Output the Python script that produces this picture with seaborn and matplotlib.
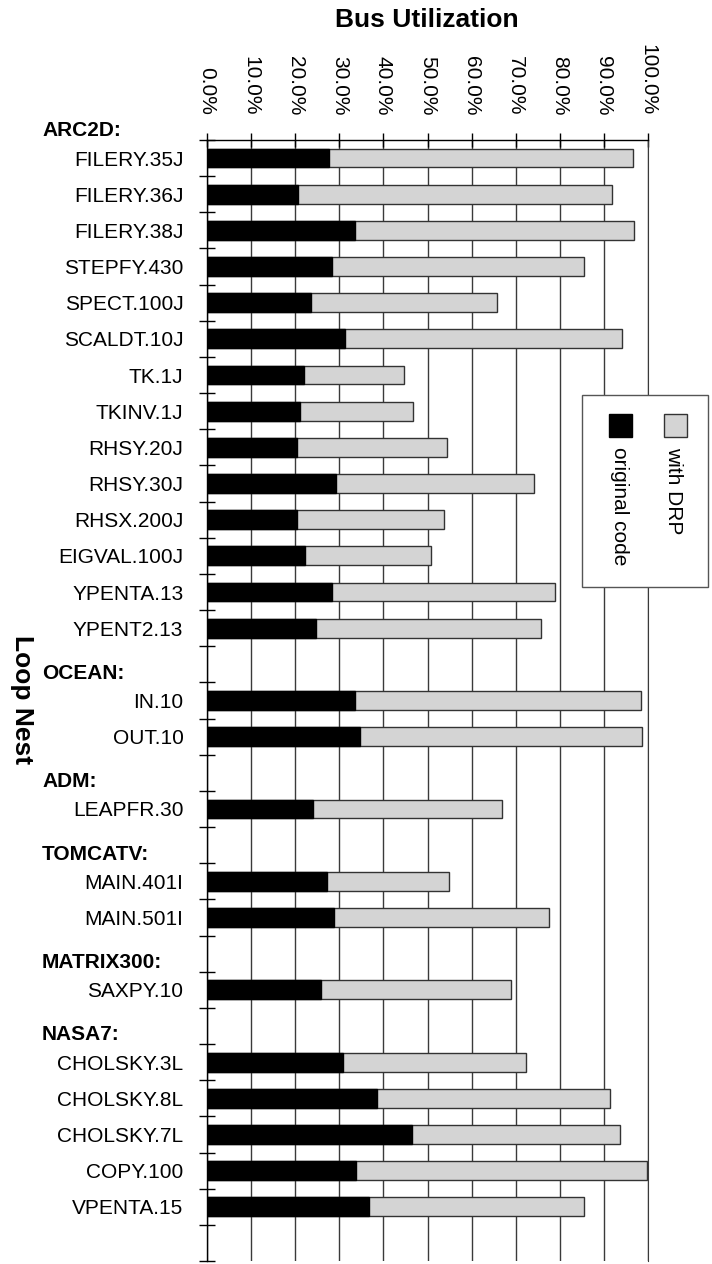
import numpy as np
import pandas as pd
import matplotlib
matplotlib.use('Agg')
import matplotlib.pyplot as plt
import matplotlib.transforms as mtransforms
from matplotlib.patches import Rectangle
import seaborn as sns

sns.set_style('white')
plt.rcParams['font.family'] = ['Liberation Sans', 'DejaVu Sans']
plt.rcParams.update({
    'text.color': 'black',
    'axes.labelcolor': 'black',
    'xtick.color': 'black',
    'ytick.color': 'black',
})

# dữ liệu
benchmarks = ['ARC2D:', 'OCEAN:', 'ADM:', 'TOMCATV:', 'MATRIX300:', 'NASA7:']
group_sizes = [14, 2, 1, 2, 1, 5]
loop_nests = ['FILERY.35J', 'FILERY.36J', 'FILERY.38J', 'STEPFY.430', 'SPECT.100J',
              'SCALDT.10J', 'TK.1J', 'TKINV.1J', 'RHSY.20J', 'RHSY.30J', 'RHSX.200J',
              'EIGVAL.100J', 'YPENTA.13', 'YPENT2.13',
              'IN.10', 'OUT.10',
              'LEAPFR.30',
              'MAIN.401I', 'MAIN.501I',
              'SAXPY.10',
              'CHOLSKY.3L', 'CHOLSKY.8L', 'CHOLSKY.7L', 'COPY.100', 'VPENTA.15']
original_code = [27.7, 20.6, 33.6, 28.3, 23.5, 31.3, 22.1, 21.1, 20.4, 29.3, 20.3,
                 22.3, 28.3, 24.8,
                 33.6, 34.8,
                 24.1,
                 27.2, 28.9,
                 25.9,
                 30.8, 38.5, 46.5, 33.8, 36.7]
with_drp = [96.6, 91.8, 96.8, 85.6, 65.7, 94.1, 44.6, 46.6, 54.5, 74.1, 53.7,
            50.9, 79.0, 75.8,
            98.3, 98.6,
            67.0,
            54.9, 77.5,
            68.9,
            72.3, 91.3, 93.6, 99.8, 85.6]

# vị trí hàng: mỗi nhóm (trừ nhóm đầu) có một hàng trống cho tên nhóm
row_pos = []
header_pos = []
r = 0
for i, n in enumerate(group_sizes):
    if i > 0:
        r += 1
    header_pos.append(r - 0.75)
    row_pos.extend(range(r, r + n))
    r += n
n_rows = r + 1

df = pd.DataFrame({'loop': loop_nests, 'row': row_pos,
                   'original': original_code, 'drp': with_drp})

fig = plt.figure(figsize=(7.12, 12.64), dpi=100)
ax = fig.add_axes([207 / 712, 1 - 1261 / 1264, 441 / 712, 1121 / 1264])

gray = '#d4d4d4'
sns.barplot(data=df, x='drp', y='row', orient='y', native_scale=True, width=0.52,
            color=gray, edgecolor='#333333', linewidth=1, saturation=1,
            errorbar=None, ax=ax)
sns.barplot(data=df, x='original', y='row', orient='y', native_scale=True, width=0.52,
            color='black', edgecolor='black', linewidth=1, saturation=1,
            errorbar=None, ax=ax)

ax.set_xlim(0, 100)
ax.set_ylim(n_rows - 0.5, -0.5)
ax.set_xlabel('')
ax.set_ylabel('')

# trục x ở trên
ax.xaxis.tick_top()
ax.set_xticks(np.arange(0, 101, 10))
ax.set_xticklabels([f'{v:.1f}%' for v in range(0, 101, 10)], rotation=270, fontsize=15)
ax.tick_params(axis='x', direction='inout', length=10, width=1, color='black', pad=13)
ax.xaxis.grid(True, color='#3a3a3a', linewidth=1)
ax.yaxis.grid(False)
ax.set_axisbelow(True)

# trục y: nhãn ở giữa hàng, vạch ở ranh giới
ax.set_yticks(row_pos)
ax.set_yticklabels(loop_nests, fontsize=15)
ax.set_yticks(np.arange(-0.5, n_rows, 1), minor=True)
ax.tick_params(axis='y', which='major', length=0, pad=17)
ax.tick_params(axis='y', which='minor', direction='inout', length=12, width=1,
               color='black', left=True)

for s in ['top', 'left']:
    ax.spines[s].set_color('black')
    ax.spines[s].set_linewidth(1)
ax.spines['right'].set_color('#3a3a3a')
ax.spines['bottom'].set_visible(False)

# tên nhóm
trans = mtransforms.blended_transform_factory(fig.transFigure, ax.transData)
for name, y in zip(benchmarks, header_pos):
    ax.text(42 / 712, y, name, transform=trans, ha='left', va='center',
            fontsize=15, fontweight='bold', clip_on=False)

fig.text(427 / 712, 1 - 20 / 1264, 'Bus Utilization', ha='center', va='center',
         fontsize=19, fontweight='bold')
fig.text(22 / 712, 1 - 700 / 1264, 'Loop Nest', ha='center', va='center',
         rotation=270, fontsize=19, fontweight='bold')


# chú thích xoay 270 độ
def px(x, y):
    return x / 712, 1 - y / 1264


fig.add_artist(Rectangle(px(582, 587), 126 / 712, 192 / 1264, transform=fig.transFigure,
                         facecolor='white', edgecolor='#555555', linewidth=1))
fig.add_artist(Rectangle(px(609, 437), 23 / 712, 23 / 1264, transform=fig.transFigure,
                         facecolor='black', edgecolor='black', linewidth=1))
fig.add_artist(Rectangle(px(664, 437), 23 / 712, 23 / 1264, transform=fig.transFigure,
                         facecolor=gray, edgecolor='#333333', linewidth=1))
fig.text(*px(619, 447), 'original code', rotation=270, ha='center', va='top', fontsize=15)
fig.text(*px(674, 447), 'with DRP', rotation=270, ha='center', va='top', fontsize=15)

fig.savefig('out.png', dpi=100)
